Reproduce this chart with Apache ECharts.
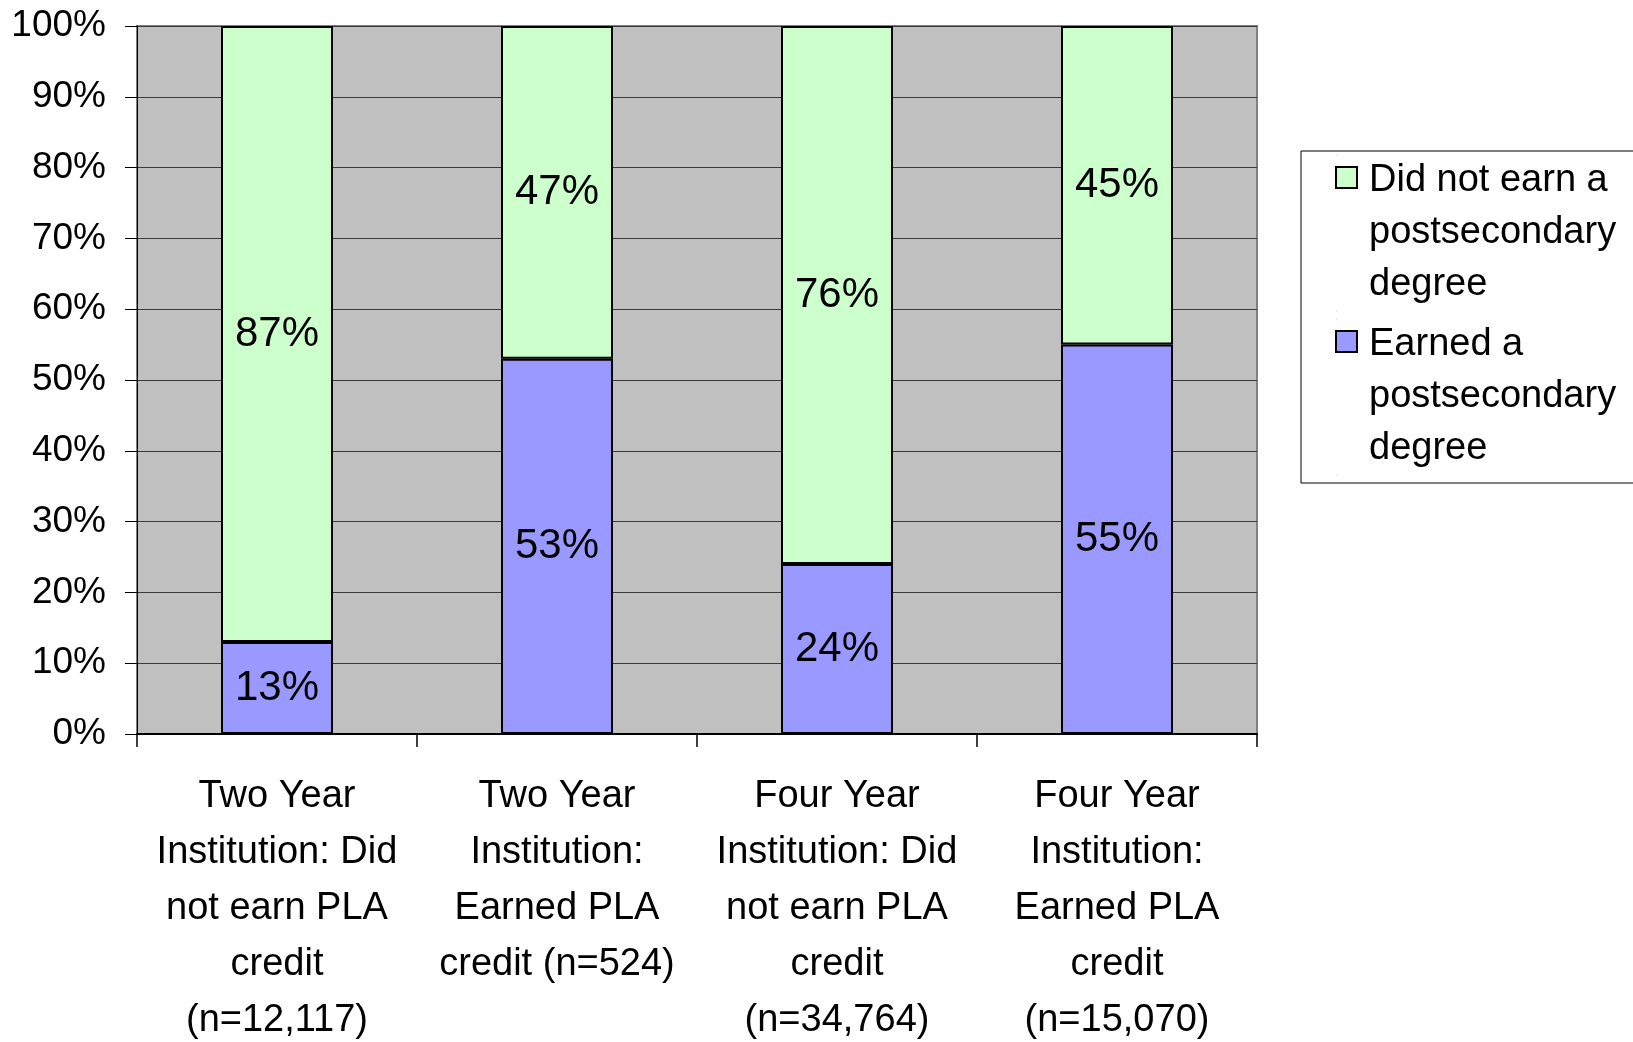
<!DOCTYPE html>
<html>
<head>
<meta charset="utf-8">
<script src="https://cdn.jsdelivr.net/npm/echarts@6/dist/echarts.min.js"></script>
<style>
	html, body { margin: 0; padding: 0; background: #fff; }
	#chart { width: 1633px; height: 1042px; }
</style>
</head>
<body>
<div id="chart"></div>
<script>
var categories = [
	'Two Year\nInstitution: Did\nnot earn PLA\ncredit\n(n=12,117)',
	'Two Year\nInstitution:\nEarned PLA\ncredit (n=524)',
	'Four Year\nInstitution: Did\nnot earn PLA\ncredit\n(n=34,764)',
	'Four Year\nInstitution:\nEarned PLA\ncredit\n(n=15,070)'
];
var earned = [13, 53, 24, 55];
var notEarned = [87, 47, 76, 45];
var seriesNames = ['Did not earn a postsecondary degree', 'Earned a postsecondary degree'];
var legendLabels = {
	'Did not earn a postsecondary degree': 'Did not earn a\npostsecondary\ndegree',
	'Earned a postsecondary degree': 'Earned a\npostsecondary\ndegree'
};

var font = "'Liberation Sans', Arial, sans-serif";
var chart = echarts.init(document.getElementById('chart'));

var barLabel = {
	show: true,
	position: 'inside',
	color: '#000',
	fontFamily: font,
	fontSize: 42,
	formatter: function (p) { return p.value + '%'; }
};

var option = {
	animation: false,
	grid: {
		left: 137,
		right: 376,
		top: 26,
		bottom: 308,
		outerBoundsMode: 'none',
		containLabel: false,
		show: true,
		backgroundColor: '#c0c0c0',
		borderColor: '#808080',
		borderWidth: 2
	},
	legend: {
		orient: 'vertical',
		left: 1301,
		top: 151,
		data: seriesNames,
		padding: [3, 90, 7, 34],
		backgroundColor: '#fff',
		borderColor: '#000',
		borderWidth: 1,
		itemWidth: 21,
		itemHeight: 156,
		itemGap: 6,
		icon: 'path://M0,12L21,12L21,33L0,33Z M0,0L0.1,0 M0,156L0.1,156',
		itemStyle: { borderColor: '#000', borderWidth: 2 },
		textStyle: { fontFamily: font, fontSize: 38, lineHeight: 52, color: '#000', padding: [0, 0, 0, 7] },
		formatter: function (name) { return legendLabels[name]; }
	},
	xAxis: {
		type: 'category',
		data: categories,
		axisLine: { lineStyle: { color: '#000', width: 2 } },
		axisTick: { show: true, length: 13, lineStyle: { color: '#000', width: 1.5 } },
		axisLabel: {
			interval: 0,
			margin: 35,
			color: '#000',
			fontFamily: font,
			fontSize: 38,
			lineHeight: 56
		}
	},
	yAxis: {
		type: 'value',
		min: 0,
		max: 100,
		interval: 10,
		axisLine: { show: true, lineStyle: { color: '#000', width: 1 } },
		axisTick: { show: true, length: 12, lineStyle: { color: '#000', width: 1 } },
		splitLine: { lineStyle: { color: '#3a3a3a', width: 1 } },
		axisLabel: {
			margin: 31,
			color: '#000',
			fontFamily: font,
			fontSize: 37,
			formatter: '{value}%'
		}
	},
	series: [
		{
			name: seriesNames[1],
			type: 'bar',
			stack: 'total',
			barWidth: '40%',
			data: earned,
			itemStyle: { color: '#9999ff', borderColor: '#000', borderWidth: 2 },
			label: barLabel
		},
		{
			name: seriesNames[0],
			type: 'bar',
			stack: 'total',
			barWidth: '40%',
			data: notEarned,
			itemStyle: { color: '#ccffcc', borderColor: '#000', borderWidth: 2 },
			label: barLabel
		}
	]
};

chart.setOption(option);
</script>
</body>
</html>
